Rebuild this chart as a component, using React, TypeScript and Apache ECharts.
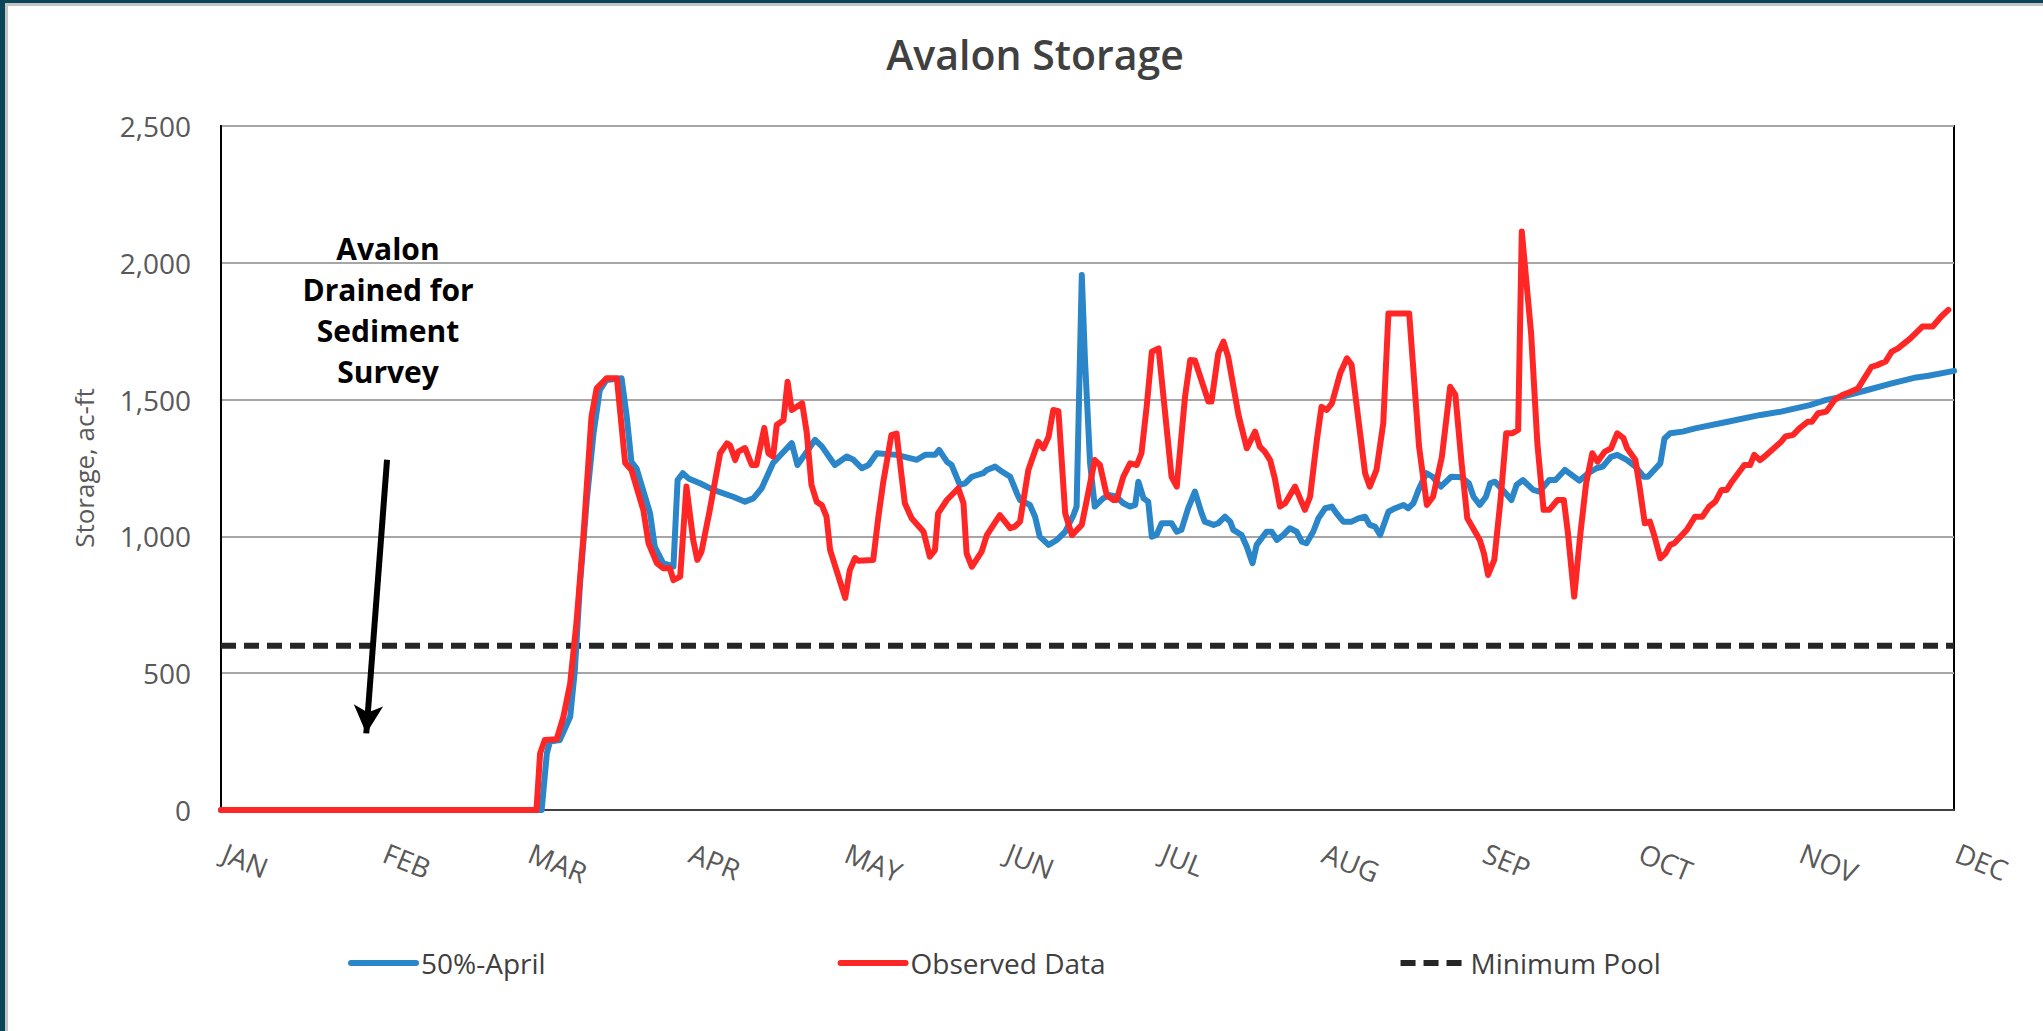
import React, { useEffect, useRef } from "react";
import * as echarts from "echarts";

// x values are day-of-year (0 = Jan 1), y values are storage in ac-ft
const monthLabels = ["JAN", "FEB", "MAR", "APR", "MAY", "JUN", "JUL", "AUG", "SEP", "OCT", "NOV", "DEC"];
const monthStartDays = [0, 31, 59, 90, 120, 151, 181, 212, 243, 273, 304, 334];

const forecastApril: [number, number][] = [
  [0, 0], [61.8, 0], [62.8, 207], [63.4, 250], [65.3, 256], [67.3, 341], [68.2, 512], [69.2, 829],
  [70.5, 1133], [71.8, 1377], [73, 1535], [74.3, 1572], [77.2, 1578], [78.2, 1437], [79.1, 1272],
  [80.1, 1248], [82.7, 1084], [83.6, 962], [85.2, 902], [87.2, 890], [88, 1206], [89, 1231],
  [90.1, 1212], [92.3, 1194], [94.9, 1170], [98.7, 1145], [101, 1127], [102.6, 1139], [104.2, 1176],
  [106.4, 1268], [110, 1341], [111.1, 1261], [112.5, 1298], [114.5, 1353], [115.8, 1329],
  [118.3, 1261], [120.6, 1292], [121.9, 1280], [123.5, 1249], [124.8, 1261], [126.4, 1304],
  [130.2, 1298], [134.1, 1280], [135.7, 1298], [137.6, 1298], [138.4, 1316], [139.9, 1273],
  [140.8, 1261], [142.4, 1188], [143.4, 1194], [144.7, 1218], [146.9, 1231], [147.6, 1243],
  [149.2, 1255], [150.5, 1237], [152.1, 1218], [153.4, 1157], [154, 1133], [155.9, 1115],
  [156.9, 1072], [157.8, 999], [159.5, 969], [161.1, 987], [162.7, 1017], [164.3, 1078],
  [164.9, 1109], [165.9, 1955], [166.5, 1651], [167.5, 1267], [168.4, 1109], [170, 1139],
  [171.3, 1151], [172.6, 1145], [173.9, 1121], [175.2, 1109], [176.2, 1115], [176.8, 1200],
  [177.8, 1139], [178.7, 1127], [179.4, 999], [180.3, 1005], [181.3, 1048], [183.2, 1048],
  [184.2, 1017], [185.1, 1024], [186.4, 1103], [187.7, 1164], [189, 1084], [189.6, 1054],
  [191.3, 1042], [192.2, 1048], [193.5, 1072], [194.5, 1054], [195.1, 1024], [196.7, 1005],
  [197.7, 962], [198.8, 902], [199.6, 969], [201.5, 1017], [202.5, 1017], [203.5, 987],
  [204.7, 1005], [206, 1030], [207.3, 1017], [208.3, 981], [209.2, 975], [210.5, 1017],
  [211.5, 1066], [212.8, 1103], [214.1, 1109], [215, 1084], [216.3, 1054], [217.9, 1054],
  [219.2, 1066], [220.5, 1072], [221.4, 1042], [222.4, 1036], [223.4, 1005], [225, 1090],
  [226.3, 1103], [227.9, 1115], [228.8, 1103], [229.8, 1121], [230.8, 1170], [232.3, 1231],
  [233.5, 1218], [235.1, 1182], [237.1, 1218], [239.1, 1216], [240.5, 1194], [241.4, 1145],
  [242.6, 1115], [243.8, 1145], [244.6, 1194], [245.5, 1200], [247.3, 1164], [248.7, 1133],
  [249.7, 1188], [250.9, 1206], [252.9, 1170], [254.1, 1164], [256, 1206], [257.2, 1206],
  [259, 1243], [261.8, 1204], [263.5, 1231], [265.1, 1249], [266.3, 1255], [267.9, 1291],
  [269.1, 1298], [271, 1279], [272.6, 1255], [274.2, 1218], [275, 1218], [277.4, 1267],
  [278.2, 1358], [279.3, 1377], [281.7, 1383], [284.1, 1395], [290.4, 1419], [296.7, 1444],
  [300.7, 1456], [306.2, 1480], [309.4, 1499], [312.5, 1511], [317.3, 1535], [322, 1559],
  [326.7, 1581], [329.1, 1587], [334, 1605],
];

const observedData: [number, number][] = [
  [0, 0], [60.8, 0], [61.5, 207], [62.4, 256], [64.7, 259], [66, 341], [67.3, 463], [68.5, 683],
  [69.8, 987], [71.4, 1437], [72.4, 1541], [74.3, 1578], [76.3, 1578], [77.9, 1268], [79.1, 1243],
  [81.4, 1096], [82.4, 975], [84, 902], [85.2, 884], [86.5, 884], [87.2, 840], [88.5, 853],
  [89.7, 1182], [91, 987], [91.8, 914], [92.6, 944], [94.2, 1096], [96.2, 1304], [97.5, 1340],
  [98.1, 1333], [99.1, 1279], [99.7, 1310], [101, 1323], [102.3, 1261], [103.2, 1261],
  [104.7, 1396], [105.5, 1304], [106.4, 1292], [107.1, 1407], [108.4, 1425], [109.2, 1565],
  [110, 1462], [112, 1487], [112.9, 1378], [113.8, 1188], [114.8, 1127], [115.8, 1114],
  [116.7, 1072], [117.4, 950], [120.3, 775], [121.2, 877], [122.2, 921], [122.8, 911],
  [125.7, 914], [126.7, 1072], [127.6, 1194], [129.2, 1370], [130.2, 1376], [131.8, 1121],
  [133.1, 1066], [135.4, 1017], [136.6, 926], [137.6, 950], [138.2, 1084], [139.9, 1133],
  [142.1, 1176], [143.1, 1121], [143.7, 938], [144.7, 889], [146.6, 944], [147.6, 1005],
  [150.1, 1078], [152.1, 1030], [153, 1036], [154, 1054], [155.6, 1243], [157.5, 1346],
  [158.5, 1322], [159.5, 1364], [160.4, 1462], [161.4, 1458], [162.7, 1084], [164, 1005],
  [165.9, 1042], [168.4, 1279], [169.4, 1261], [170.7, 1151], [172, 1133], [172.6, 1133],
  [173.9, 1218], [175.2, 1267], [176.5, 1261], [177.4, 1304], [178.4, 1474], [179.4, 1675],
  [180.7, 1687], [183.2, 1218], [184.2, 1182], [185.8, 1511], [186.8, 1645], [187.7, 1643],
  [190.3, 1493], [190.9, 1493], [192.2, 1669], [193.2, 1712], [194.1, 1657], [196.1, 1444],
  [197.7, 1322], [199.3, 1383], [200.2, 1328], [201.2, 1309], [202.2, 1279], [203.1, 1212],
  [204.1, 1109], [205.1, 1121], [207, 1182], [208.9, 1097], [209.9, 1145], [211.2, 1352],
  [212.1, 1474], [213.1, 1462], [214.1, 1486], [215.7, 1596], [217, 1651], [217.9, 1627],
  [218.9, 1474], [220.5, 1231], [221.4, 1182], [222.7, 1243], [224, 1413], [225, 1815],
  [226.3, 1815], [229, 1815], [230.9, 1328], [232.4, 1115], [233.6, 1145], [235.3, 1291],
  [236.9, 1547], [237.9, 1517], [239.1, 1267], [240.2, 1066], [242.6, 987], [243.4, 938],
  [244.2, 859], [245.4, 914], [246.6, 1133], [247.7, 1377], [248.9, 1377], [250, 1389],
  [250.7, 2114], [252.5, 1742], [253.7, 1340], [254.9, 1097], [256, 1097], [257.6, 1133],
  [258.8, 1133], [259.6, 1011], [260.8, 780], [262, 1011], [263.1, 1194], [264.3, 1304],
  [265.3, 1273], [266.7, 1310], [267.9, 1322], [269.1, 1377], [270.3, 1359], [271, 1322],
  [272.6, 1279], [273.4, 1182], [274.4, 1048], [275.4, 1054], [276.3, 999], [277.4, 920],
  [278.4, 938], [279.3, 969], [280.1, 975], [282.5, 1024], [284.1, 1072], [285.5, 1072],
  [286.8, 1109], [288, 1127], [289.2, 1170], [290.2, 1170], [291.2, 1200], [293.6, 1261],
  [294.7, 1261], [295.5, 1298], [296.6, 1279], [297.5, 1292], [300.7, 1346], [301.5, 1365],
  [303, 1371], [304.2, 1395], [305.8, 1419], [306.6, 1419], [307.8, 1450], [309.4, 1456],
  [311, 1499], [312.5, 1517], [314.1, 1529], [315.5, 1541], [318.1, 1620], [319.2, 1626],
  [320.8, 1639], [322, 1675], [323.2, 1687], [325.6, 1724], [327.9, 1767], [329.9, 1767],
  [331.5, 1803], [332.9, 1828],
];

const minimumPool = 600;
const axisStartDay = 0;
const axisEndDay = 334;
const arrowFrom: [number, number] = [32, 1280];
const arrowTo: [number, number] = [28, 280];
const annotationText = "Avalon\nDrained for\nSediment\nSurvey";

const FONT = "'Open Sans', 'Noto Sans', sans-serif";

export default function App() {
  const ref = useRef<HTMLDivElement>(null);

  useEffect(() => {
    if (!ref.current) return;
    const chart = echarts.init(ref.current, undefined, { renderer: "svg" });
    const option: any = {
      animation: false,
      backgroundColor: "#ffffff",
      textStyle: { fontFamily: FONT },
      title: {
        text: "Avalon Storage",
        left: 1030,
        textAlign: "center",
        top: 28,
        textStyle: { fontSize: 41, fontWeight: 600, color: "#404040", fontFamily: FONT },
      },
      grid: {
        left: 221,
        right: 89,
        top: 126,
        bottom: 221,
        show: true,
        borderColor: "#000000",
        borderWidth: 2,
        backgroundColor: "transparent",
      },
      legend: {
        left: 348,
        top: 949,
        padding: 0,
        itemGap: 292,
        itemWidth: 65,
        itemHeight: 14,
        itemStyle: { opacity: 0 },
        lineStyle: { width: 6 },
        textStyle: { fontSize: 28, color: "#404040", fontFamily: FONT },
        data: ["50%-April", "Observed Data", "Minimum Pool"],
      },
      xAxis: {
        type: "value",
        min: axisStartDay,
        max: axisEndDay,
        splitLine: { show: false },
        axisTick: { show: false },
        axisLine: { show: true, lineStyle: { color: "#404040", width: 2 } },
        axisLabel: {
          customValues: monthStartDays,
          formatter: (v: number) => {
            const i = monthStartDays.indexOf(Math.round(v));
            return i >= 0 ? monthLabels[i] : "";
          },
          rotate: -22,
          align: "left",
          verticalAlign: "top",
          padding: [0, 0, 0, 9],
          margin: 25,
          fontSize: 28,
          color: "#595959",
          fontFamily: FONT,
        },
      },
      yAxis: {
        type: "value",
        min: 0,
        max: 2500,
        interval: 500,
        name: "Storage, ac-ft",
        nameLocation: "middle",
        nameGap: 124,
        nameTextStyle: { fontSize: 26, color: "#595959", fontFamily: FONT },
        axisLine: { show: true, lineStyle: { color: "#000000", width: 2 } },
        axisTick: { show: false },
        splitLine: { show: true, lineStyle: { color: "#A6A6A6", width: 2 } },
        axisLabel: {
          fontSize: 28,
          color: "#595959",
          margin: 30,
          fontFamily: FONT,
          formatter: (v: number) => v.toLocaleString("en-US"),
        },
      },
      graphic: [
        {
          type: "text",
          x: 388,
          y: 228,
          z: 100,
          style: {
            text: annotationText,
            fill: "#000000",
            fontSize: 30,
            fontWeight: 700,
            fontFamily: FONT,
            align: "center",
            verticalAlign: "top",
            lineHeight: 41,
          },
        },
      ],
      series: [
        {
          name: "50%-April",
          type: "line",
          data: forecastApril,
          showSymbol: false,
          symbol: "none",
          z: 3,
          lineStyle: { color: "#2A85C9", width: 6, join: "round", cap: "round" },
          itemStyle: { color: "#2A85C9" },
        },
        {
          name: "Observed Data",
          type: "line",
          data: observedData,
          showSymbol: false,
          symbol: "none",
          z: 4,
          lineStyle: { color: "#FF2626", width: 6, join: "round", cap: "round" },
          itemStyle: { color: "#FF2626" },
        },
        {
          name: "Minimum Pool",
          type: "line",
          data: [
            [axisStartDay, minimumPool],
            [axisEndDay, minimumPool],
          ],
          showSymbol: false,
          symbol: "none",
          z: 2,
          lineStyle: { color: "#262626", width: 6, type: [15, 8] },
          itemStyle: { color: "#262626" },
          markLine: {
            silent: true,
            animation: false,
            symbol: ["none", "arrow"],
            symbolSize: [22, 28],
            label: { show: false },
            lineStyle: { color: "#000000", width: 6, type: "solid" },
            emphasis: { disabled: true },
            data: [[{ coord: arrowFrom }, { coord: arrowTo }]],
          },
        },
      ],
    };
    chart.setOption(option);
    return () => chart.dispose();
  }, []);

  return (
    <div style={{ position: "fixed", left: 0, top: 0, width: 2043, height: 1031, background: "#ffffff" }}>
      <div ref={ref} style={{ position: "absolute", left: 0, top: 0, width: 2043, height: 1031 }} />
      <div style={{ position: "absolute", left: 0, top: 0, width: 5, height: 1031, background: "#0B4658" }} />
      <div style={{ position: "absolute", left: 5, top: 0, width: 2038, height: 3, background: "#0B4658" }} />
      <div style={{ position: "absolute", left: 5, top: 3, width: 3, height: 1028, background: "#C4C4C4" }} />
      <div style={{ position: "absolute", left: 5, top: 3, width: 2038, height: 3, background: "#C4C4C4" }} />
    </div>
  );
}
